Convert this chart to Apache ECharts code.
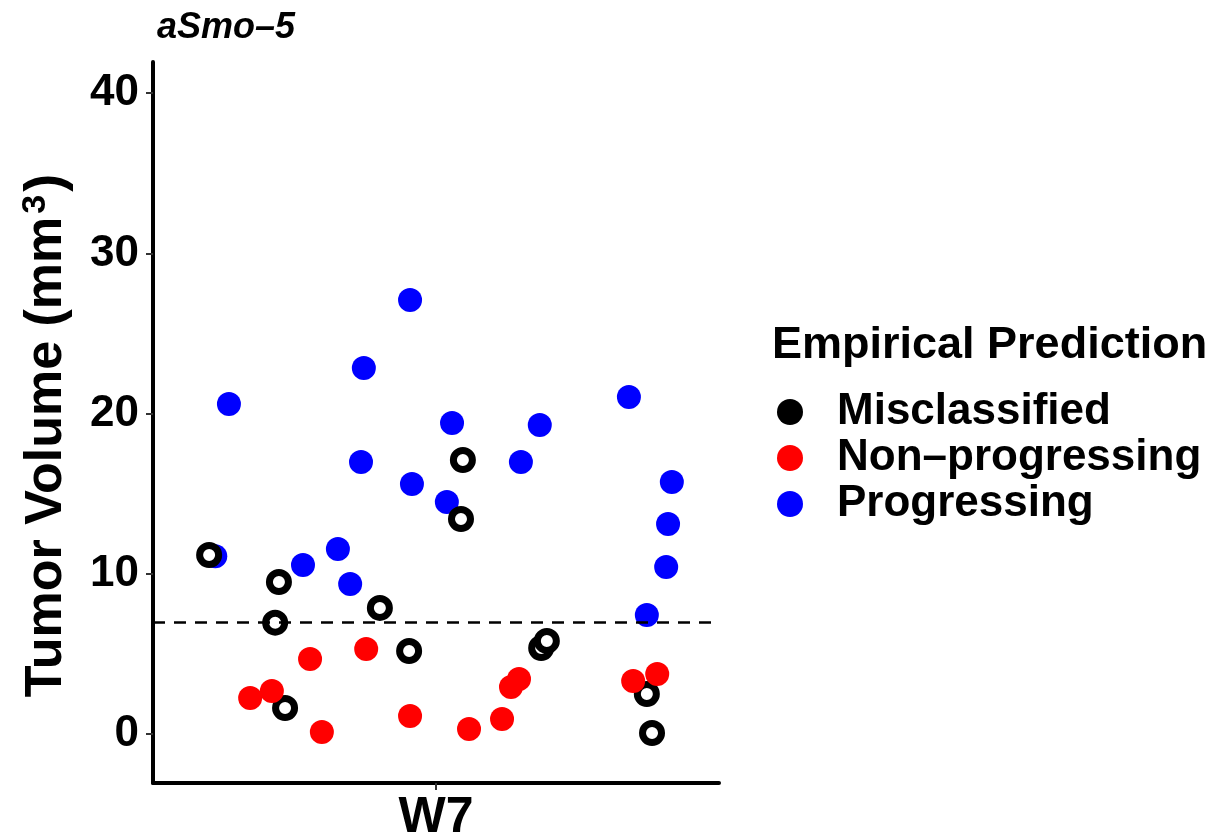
<!DOCTYPE html>
<html>
<head>
<meta charset="utf-8">
<script src="https://cdn.jsdelivr.net/npm/echarts@6/dist/echarts.min.js"></script>
<style>
  html, body { margin: 0; padding: 0; background: #fff; }
  #chart { width: 1219px; height: 835px; }
</style>
</head>
<body>
<div id="chart"></div>
<script>
// one time point, points jittered around x = 1
const categories = ['W7'];
const groups = ['Misclassified', 'Non\u2013progressing', 'Progressing'];

const progX = [0.561, 0.532, 0.718, 0.792, 0.818, 0.841, 0.847, 0.945, 0.949, 1.034, 1.023, 1.180, 1.220, 1.409, 1.500, 1.492, 1.488, 1.447];
const progY = [20.6, 11.1, 10.55, 11.55, 9.36, 16.98, 22.85, 27.09, 15.6, 19.41, 14.48, 16.98, 19.29, 21.04, 15.73, 13.11, 10.42, 7.43];

const misX = [0.519, 0.667, 0.659, 0.680, 0.881, 0.943, 1.057, 1.053, 1.223, 1.235, 1.447, 1.458];
const misY = [11.17, 9.49, 6.95, 1.62, 7.87, 5.18, 17.10, 13.42, 5.37, 5.81, 2.50, 0.06];

const nonX = [0.606, 0.652, 0.733, 0.758, 0.852, 0.945, 1.070, 1.140, 1.159, 1.176, 1.418, 1.469];
const nonY = [2.25, 2.68, 4.68, 0.12, 5.31, 1.12, 0.31, 0.94, 2.93, 3.43, 3.31, 3.75];

const yTicks = [0, 10, 20, 30, 40];
const threshold = 7;

const font = '"Liberation Sans", Arial, sans-serif';
const pairs = (xs, ys) => xs.map((x, i) => [x, ys[i]]);

let myChart = echarts.init(document.getElementById('chart'));
myChart.setOption({
    animation: false,
    backgroundColor: '#fff',
    textStyle: { fontFamily: font },
    title: [{
        text: 'aSmo\u20135',
        left: 152,
        top: 5,
        textStyle: { fontSize: 36, fontWeight: 'bold', fontStyle: 'italic', color: '#000', fontFamily: font }
    }, {
        text: 'Empirical Prediction',
        left: 767,
        top: 318,
        textStyle: { fontSize: 45, fontWeight: 'bold', color: '#000', fontFamily: font }
    }],
    legend: {
        orient: 'vertical',
        left: 772,
        top: 385,
        itemWidth: 26,
        itemHeight: 26,
        itemGap: 2,
        textStyle: { fontSize: 44, fontWeight: 'bold', color: '#000', fontFamily: font, lineHeight: 44, padding: [0, 0, 0, 29] },
        data: [
            { name: groups[0], icon: 'circle', itemStyle: { color: '#000', borderWidth: 0 } },
            { name: groups[1], icon: 'circle' },
            { name: groups[2], icon: 'circle' }
        ]
    },
    grid: { left: 153, right: 500, top: 62, bottom: 52, outerBoundsMode: 'none', containLabel: false },
    xAxis: {
        type: 'value',
        min: 0.4,
        max: 1.6,
        splitLine: { show: false },
        axisLine: { onZero: false, lineStyle: { color: '#000', width: 4 } },
        axisTick: { customValues: [1], length: 7, lineStyle: { color: '#333', width: 2 } },
        axisLabel: {
            customValues: [1],
            formatter: () => categories[0],
            fontSize: 50, fontWeight: 'bold', color: '#000', margin: 10
        }
    },
    yAxis: {
        type: 'value',
        min: -3.06,
        max: 41.95,
        name: '{a|Tumor Volume (mm}{s|3}{e|)}',
        nameLocation: 'middle',
        nameGap: 78,
        nameTextStyle: {
            rich: {
                a: { fontSize: 52, fontWeight: 'bold', color: '#000', fontFamily: font },
                e: { fontSize: 54, fontWeight: 'bold', color: '#000', fontFamily: font, padding: [0, 26, 0, 0] },
                s: { fontSize: 34, fontWeight: 'bold', color: '#000', fontFamily: font, verticalAlign: 'top', padding: [0, 3, 22, 3] }
            }
        },
        splitLine: { show: false },
        axisLine: { show: true, onZero: false, lineStyle: { color: '#000', width: 4 } },
        axisTick: { show: true, customValues: yTicks, length: 7, lineStyle: { color: '#333', width: 2 } },
        axisLabel: {
            customValues: yTicks,
            fontSize: 44, fontWeight: 'bold', color: '#000', margin: 14
        }
    },
    series: [{
        name: groups[2],
        type: 'scatter',
        symbol: 'circle',
        symbolSize: 24,
        itemStyle: { color: '#0000ff', opacity: 1 },
        data: pairs(progX, progY),
        markLine: {
            silent: true,
            symbol: 'none',
            label: { show: false },
            lineStyle: { color: '#000', width: 2.5, type: [12, 9] },
            data: [{ yAxis: threshold }]
        }
    }, {
        name: groups[0],
        type: 'scatter',
        symbol: 'circle',
        symbolSize: 19,
        itemStyle: { color: '#fff', borderColor: '#000', borderWidth: 7, opacity: 1 },
        data: pairs(misX, misY)
    }, {
        name: groups[1],
        type: 'scatter',
        symbol: 'circle',
        symbolSize: 24,
        itemStyle: { color: '#ff0000', opacity: 1 },
        data: pairs(nonX, nonY)
    }]
});
</script>
</body>
</html>
